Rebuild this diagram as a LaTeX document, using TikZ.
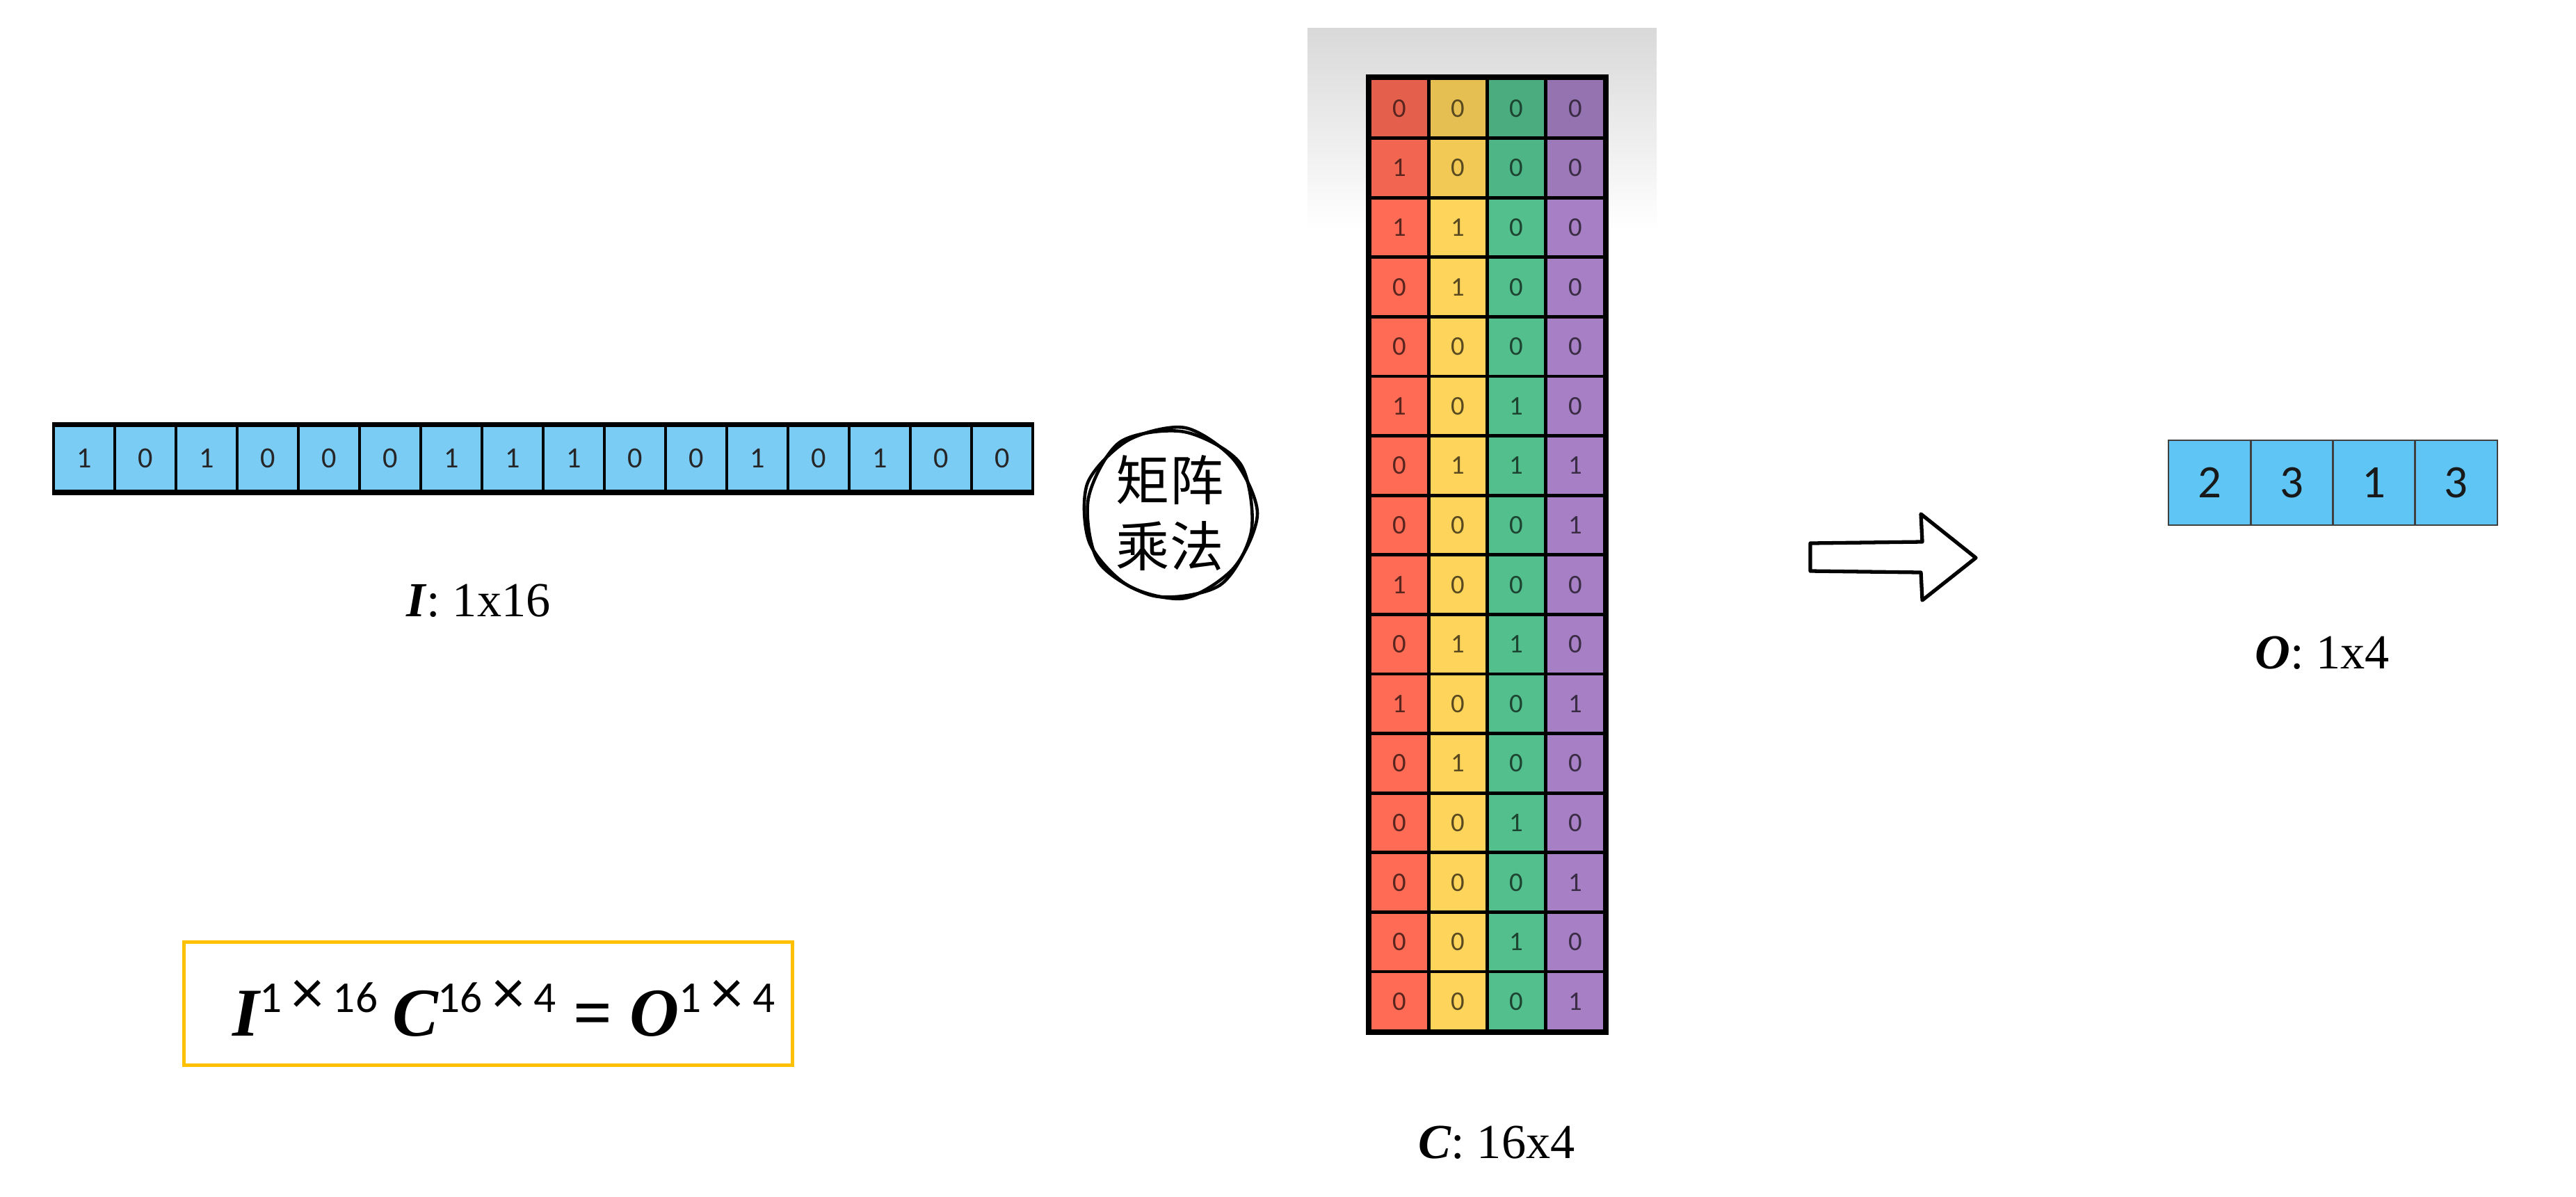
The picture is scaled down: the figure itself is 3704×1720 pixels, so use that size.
\documentclass[tikz,border=0pt]{standalone}
\usepackage{fontspec}
\setmainfont{Liberation Serif}
\newfontfamily\digitfont{Carlito}
\newfontfamily\cjk{Noto Sans CJK SC}
\definecolor{iblue}{HTML}{7ACCF5}
\definecolor{oblue}{HTML}{5EC5F5}
\definecolor{cR}{HTML}{FF6B55}
\definecolor{cY}{HTML}{FFD45A}
\definecolor{cG}{HTML}{52BF8D}
\definecolor{cP}{HTML}{A67FC4}
\definecolor{eqgold}{HTML}{FFC000}
\newcommand\eqbi{\fontsize{28pt}{30pt}\selectfont\bfseries\itshape}
\newcommand\eqsup[1]{\raisebox{9.5pt}{\digitfont\fontsize{18pt}{20pt}\selectfont #1}}
\newcommand\tms{\kern4pt\raisebox{-0.5pt}{\scalebox{1.45}{×}}\kern4pt}
\begin{document}
\begin{tikzpicture}[x=0.01cm,y=-0.01cm,
  icell/.style={draw=black, line width=1.1pt, fill=iblue, minimum width=0.88cm, minimum height=0.94cm, inner sep=0pt, font=\digitfont\fontsize{12pt}{14pt}\selectfont, text=black!85},
  ccell/.style={draw=black, line width=1.4pt, minimum width=0.843cm, minimum height=0.856cm, inner sep=0pt, font=\digitfont\fontsize{11pt}{13pt}\selectfont},
  ocell/.style={draw=black!75, line width=0.8pt, fill=oblue, minimum width=1.1825cm, minimum height=1.22cm, inner sep=0pt, font=\digitfont\fontsize{19pt}{22pt}\selectfont, text=black!90},
  lbl/.style={font=\fontsize{20pt}{24pt}\selectfont, inner sep=0pt},
  sketch/.style={line width=1.3pt, line join=round, line cap=round}]
\useasboundingbox[fill=white] (0,0) rectangle (3704,1720);

% input vector I
\foreach \v [count=\i from 0] in {1,0,1,0,0,0,1,1,1,0,0,1,0,1,0,0}
  \node[icell] (i\i) at ({121+88*\i},659) {\v};
\draw[line width=2pt] (i0.north west) -- (i15.north east);
\draw[line width=2pt] (i0.south west) -- (i15.south east);
\node[lbl, anchor=base] (ilabel) at (688,886) {\textbf{\textit{I}}: 1x16};

% multiplication sketch circle
\node[font=\cjk\fontsize{22pt}{27pt}\selectfont, align=center, inner sep=0pt] (mul) at (1682,738) {矩阵\\乘法};
\begin{scope}[shift={(mul.center)}]
  \draw[sketch] plot[smooth cycle] coordinates {(0:126) (40:121) (80:124) (120:120) (160:123) (200:126) (240:121) (280:125) (320:120)};
  \draw[sketch] plot[smooth cycle] coordinates {(12:120) (55:126) (100:121) (145:124) (190:119) (235:125) (280:119) (325:124)};
\end{scope}

% matrix C
\shade[top color=black!15, bottom color=white] (1880,40) rectangle (2382,330);
\foreach \va/\vb/\vc/\vd [count=\r] in {0/0/0/0, 1/0/0/0, 1/1/0/0, 0/1/0/0, 0/0/0/0, 1/0/1/0, 0/1/1/1, 0/0/0/1, 1/0/0/0, 0/1/1/0, 1/0/0/1, 0/1/0/0, 0/0/1/0, 0/0/0/1, 0/0/1/0, 0/0/0/1} {
  \pgfmathtruncatemacro\tint{\r==1 ? 90 : (\r==2 ? 95 : 100)}
  \foreach \v/\col [count=\k from 0] in {\va/cR, \vb/cY, \vc/cG, \vd/cP}
    \node[ccell, fill=\col!\tint!black, text=\col!35!black] (c\r-\k) at ({2012.15+84.3*\k},{70.2+85.6*\r}) {\v};
}
\draw[line width=1.8pt] (c1-0.north west) rectangle (c16-3.south east);
\node[lbl, anchor=base] (clabel) at (2152,1665) {\textbf{\textit{C}}: 16x4};

% arrow
\draw[sketch, line width=1.5pt] (2603,781) -- (2764,779) -- (2762,739) -- (2841,802) -- (2764,863) -- (2762,823) -- (2603,821) -- cycle;

% output vector O
\foreach \v [count=\k from 0] in {2,3,1,3}
  \node[ocell] (o\k) at ({3177.1+118.25*\k},694) {\v};
\node[lbl, anchor=base] (olabel) at (3339,961) {\textbf{\textit{O}}: 1x4};

% equation
\node[draw=eqgold, line width=1.4pt, minimum width=8.74cm, minimum height=1.77cm] (eqbox) at (702,1443) {};
\node[anchor=base west, inner sep=0pt] (eq) at (334,1489) {{\eqbi I}\eqsup{1\tms16}\kern6pt{\eqbi C}\eqsup{16\tms4}\kern7pt{\fontsize{28pt}{30pt}\selectfont\bfseries =}\kern7pt{\eqbi O}\eqsup{1\tms4}};
\end{tikzpicture}
\end{document}
